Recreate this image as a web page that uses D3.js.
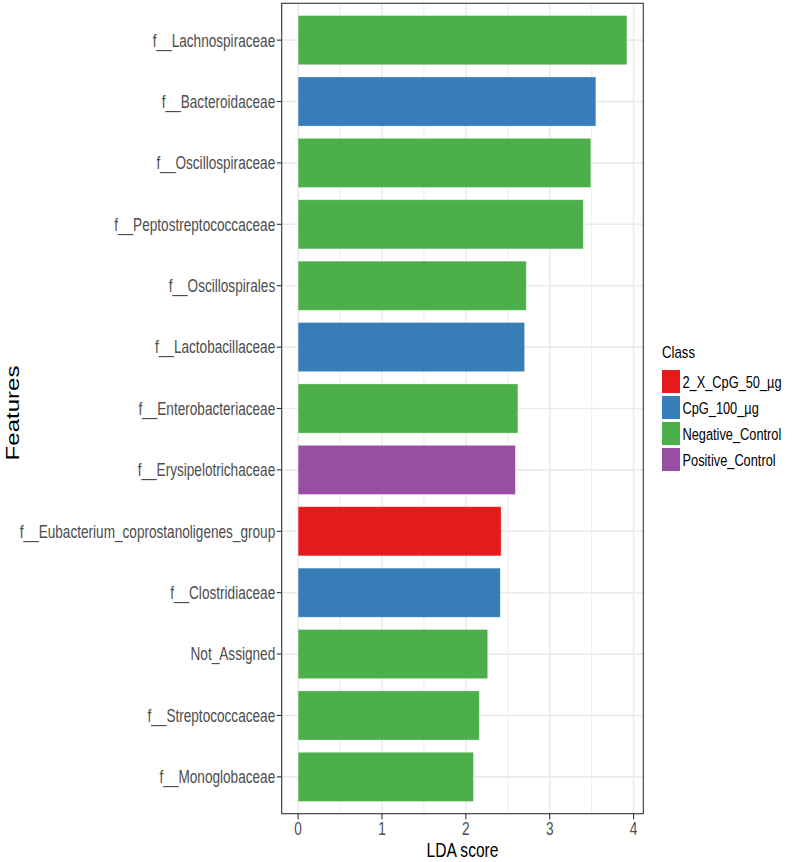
<!DOCTYPE html>
<html>
<head>
<meta charset="utf-8">
<script src="https://cdn.jsdelivr.net/npm/d3@7"></script>
<style>
  html, body { margin: 0; padding: 0; background: #ffffff; }
  svg { display: block; }
  text { font-family: "Liberation Sans", Arial, sans-serif; }
</style>
</head>
<body>
<div id="chart"></div>
<script>
// ---- data ----
const features = [
  "f__Lachnospiraceae",
  "f__Bacteroidaceae",
  "f__Oscillospiraceae",
  "f__Peptostreptococcaceae",
  "f__Oscillospirales",
  "f__Lactobacillaceae",
  "f__Enterobacteriaceae",
  "f__Erysipelotrichaceae",
  "f__Eubacterium_coprostanoligenes_group",
  "f__Clostridiaceae",
  "Not_Assigned",
  "f__Streptococcaceae",
  "f__Monoglobaceae"
];
const ldaScores = [3.92, 3.55, 3.49, 3.40, 2.72, 2.70, 2.62, 2.59, 2.42, 2.41, 2.26, 2.16, 2.09];
const featureClass = [
  "Negative_Control", "CpG_100_µg", "Negative_Control", "Negative_Control",
  "Negative_Control", "CpG_100_µg", "Negative_Control", "Positive_Control",
  "2_X_CpG_50_µg", "CpG_100_µg", "Negative_Control", "Negative_Control",
  "Negative_Control"
];
const classes = ["2_X_CpG_50_µg", "CpG_100_µg", "Negative_Control", "Positive_Control"];
const classColors = ["#E41A1C", "#377EB8", "#4DAF4A", "#984EA3"];
const xTicks = [0, 1, 2, 3, 4];
const xMinor = [0.5, 1.5, 2.5, 3.5];

const rows = features.map((f, i) => ({ feature: f, score: ldaScores[i], cls: featureClass[i] }));

// ---- layout ----
const W = 793, H = 862;
const panel = { left: 281.7, right: 643.3, top: 3.3, bottom: 813.7 };
const SY = 1.3; // vertical text stretch

const svg = d3.select("#chart").append("svg").attr("width", W).attr("height", H);

const maxScore = d3.max(ldaScores);
const pad = maxScore * 0.05;
const x = d3.scaleLinear().domain([-pad, maxScore + pad]).range([panel.left, panel.right]);
const y = d3.scalePoint().domain(features).range([panel.top, panel.bottom]).padding(0.6);
const barH = y.step() * 0.8;
const color = d3.scaleOrdinal().domain(classes).range(classColors);

function txt(g, xx, yy, str, opts) {
  const t = g.append("text")
    .attr("transform", opts.rotate
      ? `translate(${xx},${yy}) rotate(-90) scale(${SY},1)`
      : `translate(${xx},${yy}) scale(1,${SY})`)
    .attr("text-anchor", opts.anchor || "start")
    .attr("font-size", opts.size)
    .attr("fill", opts.fill || "#000")
    .attr("dy", opts.dy || 0)
    .text(str);
  return t;
}

// grid
const grid = svg.append("g");
grid.selectAll("line.minor").data(xMinor).join("line")
  .attr("x1", d => x(d)).attr("x2", d => x(d))
  .attr("y1", panel.top).attr("y2", panel.bottom)
  .attr("stroke", "#ebebeb").attr("stroke-width", 0.9);
grid.selectAll("line.majx").data(xTicks).join("line")
  .attr("x1", d => x(d)).attr("x2", d => x(d))
  .attr("y1", panel.top).attr("y2", panel.bottom)
  .attr("stroke", "#ebebeb").attr("stroke-width", 1.6);
grid.selectAll("line.majy").data(features).join("line")
  .attr("x1", panel.left).attr("x2", panel.right)
  .attr("y1", d => y(d)).attr("y2", d => y(d))
  .attr("stroke", "#ebebeb").attr("stroke-width", 1.6);

// bars
svg.append("g").selectAll("rect").data(rows).join("rect")
  .attr("x", x(0))
  .attr("y", d => y(d.feature) - barH / 2)
  .attr("width", d => x(d.score) - x(0))
  .attr("height", barH)
  .attr("fill", d => color(d.cls))
  .attr("stroke", "#ffffff").attr("stroke-opacity", 0.35).attr("stroke-width", 0.8);

// panel border
svg.append("rect")
  .attr("x", panel.left).attr("y", panel.top)
  .attr("width", panel.right - panel.left).attr("height", panel.bottom - panel.top)
  .attr("fill", "none").attr("stroke", "#333333").attr("stroke-width", 1.1);

// y axis ticks + labels
const yAx = svg.append("g");
features.forEach(f => {
  yAx.append("line").attr("x1", panel.left - 5).attr("x2", panel.left)
    .attr("y1", y(f)).attr("y2", y(f)).attr("stroke", "#333333").attr("stroke-width", 1.1);
  txt(yAx, panel.left - 6.5, y(f), f, { anchor: "end", size: 13.6, fill: "#4d4d4d", dy: "0.36em" });
});

// x axis ticks + labels
const xAx = svg.append("g");
xTicks.forEach(t => {
  xAx.append("line").attr("x1", x(t)).attr("x2", x(t))
    .attr("y1", panel.bottom).attr("y2", panel.bottom + 5.5).attr("stroke", "#333333").attr("stroke-width", 1.1);
  txt(xAx, x(t), 835, String(t), { anchor: "middle", size: 13.6, fill: "#4d4d4d" });
});

// axis titles
txt(svg, (panel.left + panel.right) / 2, 857, "LDA score", { anchor: "middle", size: 15.6 });
txt(svg, 18.5, 413, "Features", { anchor: "middle", size: 18.5, rotate: true });

// legend
const leg = svg.append("g");
txt(leg, 662, 358, "Class", { size: 13.2 });
classes.forEach((c, i) => {
  const top = 370 + i * 26;
  leg.append("rect").attr("x", 662).attr("y", top).attr("width", 18).attr("height", 23)
    .attr("fill", classColors[i]);
  txt(leg, 682.5, top + 11.5, c, { size: 12.8, dy: "0.36em" });
});
</script>
</body>
</html>
